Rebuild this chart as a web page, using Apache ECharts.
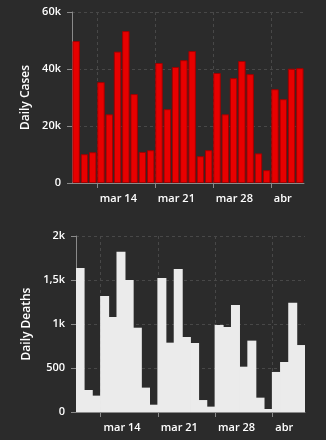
<!DOCTYPE html>
<html>
<head>
<meta charset="utf-8">
<script src="https://cdn.jsdelivr.net/npm/echarts@6/dist/echarts.min.js"></script>
<style>
html,body{margin:0;padding:0;background:#2b2b2b;}
#c{width:326px;height:440px;}
</style>
</head>
<body>
<div id="c"></div>
<script>
const categories = ['mar 11','mar 12','mar 13','mar 14','mar 15','mar 16','mar 17','mar 18','mar 19','mar 20',
  'mar 21','mar 22','mar 23','mar 24','mar 25','mar 26','mar 27','mar 28','mar 29','mar 30','mar 31',
  'abr 1','abr 2','abr 3','abr 4','abr 5','abr 6','abr 7'];
const boundaryDays = categories.concat(['abr 8']);
const dailyCases = [49800,10100,10800,35400,24100,46100,53300,31200,10900,11500,
  42100,25900,40700,43100,46300,9400,11500,38600,24100,36800,42800,
  38200,10400,4500,32900,29400,40100,40300];
const dailyDeaths = [1636,250,186,1318,1080,1822,1500,958,277,83,
  1523,788,1625,852,784,136,61,989,966,1216,515,
  811,163,34,455,568,1242,761];
const xTickDays = ['mar 14','mar 21','mar 28','abr 4'];
const xTickLabels = ['mar 14','mar 21','mar 28','abr'];
const casesTickLabels = ['0','20k','40k','60k'];
const deathsTickLabels = ['0','500','1k','1,5k','2k'];

const FONT = '"Open Sans", sans-serif';
const TXT = '#ffffff';
const AX = '#8a8a8a';
const GRIDC = '#484848';

function displayXAxis(gridIndex) {
  const isTick = (i, v) => xTickDays.indexOf(v) >= 0;
  return {
    type: 'category', gridIndex: gridIndex, position: 'bottom',
    data: boundaryDays, boundaryGap: false,
    axisLine: {show: true, lineStyle: {color: AX, width: 1}},
    axisTick: {show: true, length: 5, interval: isTick, lineStyle: {color: AX}},
    axisLabel: {show: true, interval: isTick, margin: 10, color: TXT, fontSize: 11, fontWeight: 600, fontFamily: FONT,
      align: 'left', padding: [0, 0, 0, 3],
      formatter: v => { const k = xTickDays.indexOf(v); return k >= 0 ? xTickLabels[k] : ''; }},
    splitLine: {show: true, interval: isTick, lineStyle: {color: GRIDC, type: [3, 3]}},
    z: 1
  };
}
function barXAxis(gridIndex) {
  return {type: 'category', gridIndex: gridIndex, position: 'bottom', data: categories,
    boundaryGap: true, show: false};
}
function yAxis(gridIndex, max, interval, labels, name) {
  return {
    type: 'value', gridIndex: gridIndex, min: 0, max: max, interval: interval,
    name: name, nameLocation: 'middle', nameRotate: 90, nameGap: 38,
    nameTextStyle: {color: TXT, fontSize: 12, fontWeight: 600, fontFamily: FONT},
    axisLine: {show: true, lineStyle: {color: AX, width: 1}},
    axisTick: {show: true, length: 5, lineStyle: {color: AX}},
    axisLabel: {color: TXT, fontSize: 11, fontWeight: 600, fontFamily: FONT, margin: 11,
      formatter: (v, i) => labels[Math.round(v / interval)]},
    splitLine: {show: true, lineStyle: {color: GRIDC, type: [3, 3]}}
  };
}

const chart = echarts.init(document.getElementById('c'), null, {renderer: 'canvas'});
chart.setOption({
  backgroundColor: '#2b2b2b',
  animation: false,
  grid: [
    {left: 72, right: 22, top: 12, height: 171},
    {left: 76, right: 21, top: 236, height: 176}
  ],
  xAxis: [barXAxis(0), displayXAxis(0), barXAxis(1), displayXAxis(1)],
  yAxis: [
    yAxis(0, 60000, 20000, casesTickLabels, 'Daily Cases'),
    yAxis(1, 2000, 500, deathsTickLabels, 'Daily Deaths')
  ],
  series: [
    {type: 'bar', xAxisIndex: 0, yAxisIndex: 0, data: dailyCases, barCategoryGap: '10%',
      itemStyle: {color: '#e80000', borderColor: '#a00000', borderWidth: 1}, z: 3},
    {type: 'bar', xAxisIndex: 2, yAxisIndex: 1, data: dailyDeaths, barWidth: 9,
      itemStyle: {color: '#ebebeb', borderWidth: 0}, z: 3}
  ]
});
</script>
</body>
</html>
